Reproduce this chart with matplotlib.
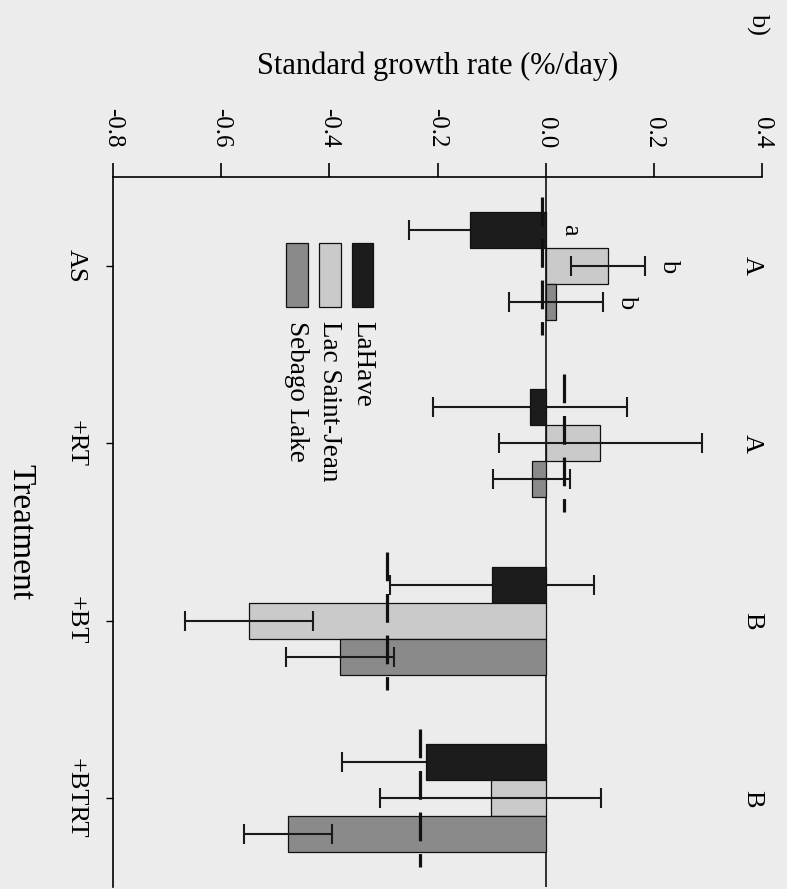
import numpy as np
import matplotlib
matplotlib.use("Agg")
import matplotlib.pyplot as plt
from matplotlib.patches import Rectangle

plt.rcParams['font.family'] = ['Liberation Serif', 'DejaVu Serif']

# ---- data ----
treatments = ['AS', '+RT', '+BT', '+BTRT']
populations = ['LaHave', 'Lac Saint-Jean', 'Sebago Lake']
lahave_mean = [-0.139, -0.029, -0.099, -0.221]
lahave_se = [0.114, 0.179, 0.188, 0.156]
lsj_mean = [0.115, 0.101, -0.548, -0.102]
lsj_se = [0.068, 0.188, 0.118, 0.205]
sebago_mean = [0.019, -0.026, -0.381, -0.476]
sebago_se = [0.087, 0.071, 0.100, 0.081]
treatment_ref = [-0.007, 0.033, -0.293, -0.232]
treatment_letters = ['A', 'A', 'B', 'B']
as_letters = ['a', 'b', 'b']
value_ticks = [-0.8, -0.6, -0.4, -0.2, 0.0, 0.2, 0.4]
value_tick_labels = ['-0.8', '-0.6', '-0.4', '-0.2', '0.0', '0.2', '0.4']

means = [lahave_mean, lsj_mean, sebago_mean]
ses = [lahave_se, lsj_se, sebago_se]
colors = ['#1c1c1c', '#cacaca', '#8a8a8a']

W, H = 787, 889
fig = plt.figure(figsize=(W / 100, H / 100), dpi=100)
bg = '#ececec'
fig.patch.set_facecolor(bg)
ax = fig.add_axes([113 / W, 2 / H, (762 - 113) / W, (887 - 177) / H])
ax.set_facecolor('none')

y = np.arange(len(treatments))
bw = 0.203
offsets = [-bw, 0.0, bw]
for i in range(3):
    ax.errorbar(means[i], y + offsets[i], xerr=ses[i], fmt='none',
                ecolor='#1a1a1a', elinewidth=1.5, capsize=7.2,
                capthick=1.5, zorder=3 if i > 0 else 1.5)
    ax.barh(y + offsets[i], means[i], height=bw, color=colors[i],
            edgecolor='#111111', linewidth=0.9, zorder=2)

# treatment reference (dashed) lines
ax.vlines(treatment_ref, y - 0.39, y + 0.39, colors='#111111',
          linewidth=2.3, linestyles=[(0, (9, 4))], zorder=4)

ax.axvline(0, color='#111111', linewidth=1.2, zorder=1)

ax.set_xlim(-0.8, 0.4)
ax.set_ylim(3.5, -0.5)

ax.spines['right'].set_visible(False)
ax.spines['bottom'].set_visible(False)
ax.spines['left'].set_linewidth(1.2)
ax.spines['top'].set_linewidth(1.2)

ax.xaxis.set_ticks_position('top')
ax.xaxis.set_label_position('top')
ax.set_xticks(value_ticks)
ax.set_xticklabels(value_tick_labels, rotation=-90, fontsize=18,
                   ha='center', va='bottom')
ax.tick_params(axis='x', direction='out', length=10, width=1.2, pad=11)

ax.set_yticks(y)
ax.set_yticklabels(treatments, rotation=-90, fontsize=19,
                   va='center', ha='right')
ax.tick_params(axis='y', direction='out', length=5, width=1.0, pad=14)

ax.set_xlabel('Standard growth rate (%/day)', fontsize=22, labelpad=25)
ax.set_ylabel('Treatment', fontsize=24, rotation=-90, labelpad=32,
              va='center')

# treatment significance letters
for yi, lt in zip(y, treatment_letters):
    ax.text(0.381, yi, lt, rotation=-90, fontsize=19, ha='center',
            va='center', clip_on=False)

# within-AS letters
for i, lt in enumerate(as_letters):
    top = max(0.0, means[i][0] + ses[i][0])
    ax.text(top + 0.045, 0 + offsets[i], lt, rotation=-90, fontsize=19,
            ha='center', va='center')

# panel label
fig.text(758 / W, 1 - 24 / H, 'b)', rotation=-90, fontsize=19,
         ha='center', va='center')

# manual rotated legend
box_x = [351.7, 319.0, 286.0]
for i, name in enumerate(populations):
    x0 = box_x[i]
    fig.patches.append(Rectangle((x0 / W, 1 - 306.7 / H), 21.6 / W, 63.7 / H,
                                 transform=fig.transFigure,
                                 facecolor=colors[i], edgecolor='#111111',
                                 linewidth=0.9))
    fig.text((x0 + 10.8) / W, 1 - 321 / H, name, rotation=-90, fontsize=19.5,
             ha='center', va='top')

fig.savefig('out.png', dpi=100, facecolor=bg)
